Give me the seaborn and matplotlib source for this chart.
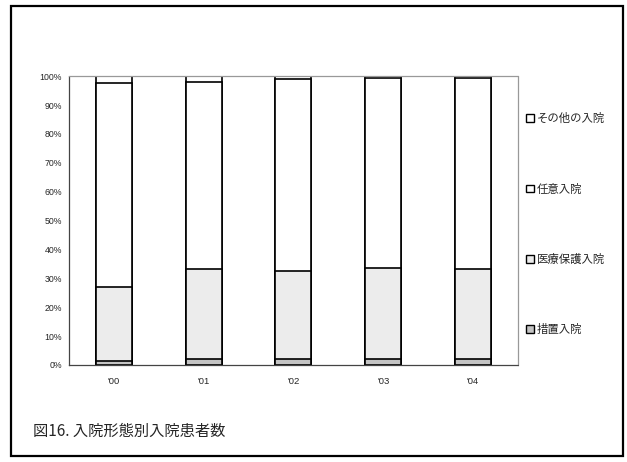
import matplotlib
matplotlib.use("Agg")
import matplotlib.pyplot as plt
from matplotlib.patches import Rectangle, Patch
import numpy as np
import pandas as pd
import seaborn as sns

# Admission type shares (%) by year
years = ["'00", "'01", "'02", "'03", "'04"]
sochi = [1.5, 2.0, 2.0, 2.0, 2.0]           # 措置入院
iryo_hogo = [25.5, 31.3, 30.7, 31.6, 31.2]  # 医療保護入院
nini = [70.8, 64.7, 66.3, 65.7, 66.1]       # 任意入院
sonota = [2.2, 2.0, 1.0, 0.7, 0.7]          # その他の入院

series_names = ["措置入院", "医療保護入院", "任意入院", "その他の入院"]
series_values = [sochi, iryo_hogo, nini, sonota]
series_colors = ["#c4c4c4", "#ececec", "#ffffff", "#ffffff"]

sns.set_theme(style="white")
plt.rcParams["font.family"] = ["Noto Sans CJK JP", "DejaVu Sans"]

fig = plt.figure(figsize=(6.27, 4.62), dpi=100)
ax = fig.add_axes([0.110, 0.210, 0.716, 0.625])

# cumulative tops, drawn tallest first so each lower segment overlays the one above
cum = np.cumsum(np.array(series_values), axis=0)
for i in range(len(series_names) - 1, -1, -1):
    df = pd.DataFrame({"year": years, "top": cum[i]})
    sns.barplot(data=df, x="year", y="top", color=series_colors[i],
                width=0.4, edgecolor="black", linewidth=1.2,
                saturation=1, ax=ax)

ax.set_ylim(0, 100)
ax.set_xlim(-0.5, 4.5)
ax.set_yticks(np.arange(0, 101, 10))
ax.set_yticklabels([f"{v}%" for v in range(0, 101, 10)], fontsize=6.3,
                   family=["Liberation Sans", "DejaVu Sans"])
ax.set_xticklabels(years, fontsize=6.8, family=["Liberation Sans", "DejaVu Sans"])
ax.tick_params(axis="y", length=0, pad=5)
ax.tick_params(axis="x", length=0, pad=9)
ax.set_xlabel("")
ax.set_ylabel("")
for side, sp in ax.spines.items():
    sp.set_visible(True)
    sp.set_linestyle((0, (1, 1)))
    sp.set_linewidth(0.9)
    sp.set_color("#444444" if side in ("left", "bottom") else "#999999")

# legend, top entry first
handles = [Patch(facecolor=series_colors[i], edgecolor="black", linewidth=1.0)
           for i in range(len(series_names) - 1, -1, -1)]
labels = series_names[::-1]
fig.legend(handles, labels, loc="upper left", bbox_to_anchor=(0.832, 0.765),
           frameon=False, fontsize=8.2, handlelength=0.65, handleheight=0.65,
           handletextpad=0.3, labelspacing=5.2, borderaxespad=0)

fig.text(0.053, 0.067, "図16. 入院形態別入院患者数", fontsize=11, ha="left",
         va="center")

# outer frame
fig.add_artist(Rectangle((0.018, 0.012), 0.975, 0.975, transform=fig.transFigure,
                         fill=False, edgecolor="black", linewidth=1.6))

fig.savefig("out.png", dpi=100)
